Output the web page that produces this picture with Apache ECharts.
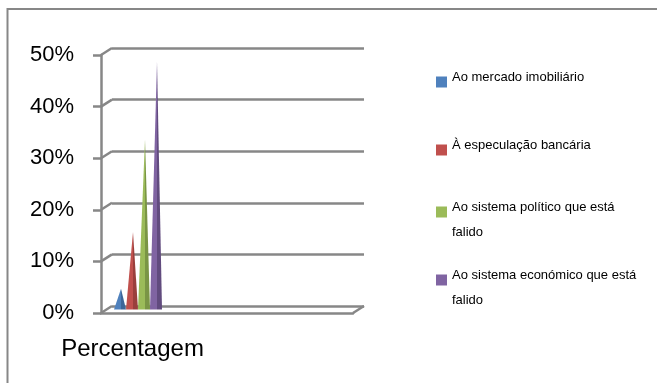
<!DOCTYPE html>
<html>
<head>
<meta charset="utf-8">
<script src="https://cdn.jsdelivr.net/npm/echarts@6/dist/echarts.min.js"></script>
<style>
  html, body { margin: 0; padding: 0; background: #ffffff; }
  #chart { width: 657px; height: 383px; }
</style>
</head>
<body>
<div id="chart"></div>
<script>
// Categories along the floor of the 3D frame (only the first one holds data)
const categories = ['Percentagem', '', '', ''];

// One cone per answer
const seriesNames = [
  'Ao mercado imobiliário',
  'À especulação bancária',
  'Ao sistema político que está falido',
  'Ao sistema económico que está falido'
];
const seriesValues = [0.04, 0.15, 0.33, 0.48];

// Value axis ticks (fractions shown as percentages)
const yTicks = [0, 0.1, 0.2, 0.3, 0.4, 0.5];

// Office palette: base colour and the darker shade of the cone's side
const palette = [
  { base: '#4F81BD', dark: '#3d6699' },
  { base: '#C0504D', dark: '#9a3f3c' },
  { base: '#9BBB59', dark: '#7a9545' },
  { base: '#8064A2', dark: '#614b7e' }
];

const GRAY = '#878787';
const FONT = 'Liberation Sans';

// Front plane of the frame and the depth offset of the back wall
const front = { left: 101, top: 55, width: 252, height: 258 };
const depth = { dx: 11, dy: -7 };

const yMin = yTicks[0];
const yMax = yTicks[yTicks.length - 1];
const yStep = yTicks[1] - yTicks[0];

const chart = echarts.init(document.getElementById('chart'), null, { renderer: 'canvas' });

// Slanted connectors from the front axis ticks to the back wall gridlines
function renderConnectors(params, api) {
  const cs = params.coordSys;
  const y = api.coord([0, api.value(1)])[1];
  const style = { stroke: GRAY, lineWidth: 2.5, fill: null };
  const children = [{
    type: 'line',
    shape: { x1: cs.x, y1: y, x2: cs.x + depth.dx, y2: y + depth.dy },
    style: style
  }];
  if (api.value(1) === yMin) {
    children.push({
      type: 'line',
      shape: { x1: cs.x + cs.width, y1: y, x2: cs.x + cs.width + depth.dx, y2: y + depth.dy },
      style: style
    });
  }
  return { type: 'group', children: children };
}

const conePath = 'path://M7,0 L12,100 L0,100 Z';

const coneSeries = seriesNames.map((name, i) => ({
  name: name,
  type: 'pictorialBar',
  xAxisIndex: 2,
  yAxisIndex: 2,
  symbol: conePath,
  symbolSize: ['100%', '100%'],
  symbolKeepAspect: false,
  barWidth: 12,
  barGap: '0%',
  z: 5,
  itemStyle: {
    color: new echarts.graphic.LinearGradient(0, 0, 1, 0, [
      { offset: 0, color: palette[i].base },
      { offset: 0.6, color: palette[i].base },
      { offset: 0.62, color: palette[i].dark },
      { offset: 1, color: palette[i].dark }
    ])
  },
  data: [seriesValues[i]]
}));

// Legend: one block per item so the rows keep an even pitch
const iconTops = [78, 146, 214, 282];

const legends = seriesNames.map((name, i) => {
  const wrapped = / falido$/.test(name);
  return {
    data: [{ name: name, itemStyle: { color: palette[i].base } }],
    orient: 'vertical',
    left: 436,
    top: iconTops[i] - (wrapped ? 13.5 : 7),
    padding: 0,
    itemWidth: 11,
    itemHeight: 11,
    icon: 'rect',
    selectedMode: false,
    formatter: n => wrapped
      ? '{a|' + n.replace(/ falido$/, '') + '}\n{b|falido}'
      : '{s|' + n + '}\n{e| }',
    textStyle: {
      fontFamily: FONT,
      fontSize: 13,
      color: '#000000',
      rich: {
        a: { fontFamily: FONT, fontSize: 13, color: '#000000', lineHeight: 40 },
        b: { fontFamily: FONT, fontSize: 13, color: '#000000', lineHeight: 10 },
        s: { fontFamily: FONT, fontSize: 13, color: '#000000', lineHeight: 16 },
        e: { fontFamily: FONT, fontSize: 13, color: '#000000', lineHeight: 9 }
      }
    }
  };
});

const option = {
  backgroundColor: '#ffffff',
  animation: false,
  graphic: [{
    type: 'rect',
    silent: true,
    shape: { x: 7.5, y: 9, width: 700, height: 420 },
    style: { fill: 'none', stroke: GRAY, lineWidth: 2 }
  }],
  legend: legends,
  grid: [
    // front plane
    { left: front.left, top: front.top, width: front.width, height: front.height },
    // back wall
    { left: front.left + depth.dx, top: front.top + depth.dy, width: front.width, height: front.height },
    // mid depth, where the cones stand
    { left: front.left + depth.dx / 2, top: front.top + depth.dy / 2, width: front.width, height: front.height }
  ],
  xAxis: [
    {
      type: 'category', gridIndex: 0, data: categories,
      axisLine: { lineStyle: { color: GRAY, width: 2.5 } },
      axisTick: { length: 8, lineStyle: { color: GRAY, width: 2.5 } },
      axisLabel: { fontFamily: FONT, fontSize: 24, color: '#000000', margin: 24 },
      splitLine: { show: false }
    },
    { type: 'category', gridIndex: 1, data: categories, show: false },
    { type: 'category', gridIndex: 2, data: categories, show: false }
  ],
  yAxis: [
    {
      type: 'value', gridIndex: 0, min: yMin, max: yMax, interval: yStep,
      axisLine: { show: true, lineStyle: { color: GRAY, width: 2.5 } },
      axisTick: { show: true, length: 8, lineStyle: { color: GRAY, width: 2.5 } },
      axisLabel: {
        fontFamily: FONT, fontSize: 22, color: '#000000', margin: 27,
        padding: [6, 0, 0, 0],
        formatter: v => Math.round(v * 100) + '%'
      },
      splitLine: { show: false }
    },
    {
      type: 'value', gridIndex: 1, min: yMin, max: yMax, interval: yStep,
      axisLine: { show: false }, axisTick: { show: false }, axisLabel: { show: false },
      splitLine: { show: true, lineStyle: { color: GRAY, width: 2.5 } }
    },
    {
      type: 'value', gridIndex: 2, min: yMin, max: yMax, interval: yStep,
      show: false, splitLine: { show: false }
    }
  ],
  series: [
    {
      type: 'custom',
      xAxisIndex: 0,
      yAxisIndex: 0,
      renderItem: renderConnectors,
      silent: true,
      z: 1,
      data: yTicks.map(v => [0, v])
    }
  ].concat(coneSeries)
};

chart.setOption(option);
</script>
</body>
</html>
